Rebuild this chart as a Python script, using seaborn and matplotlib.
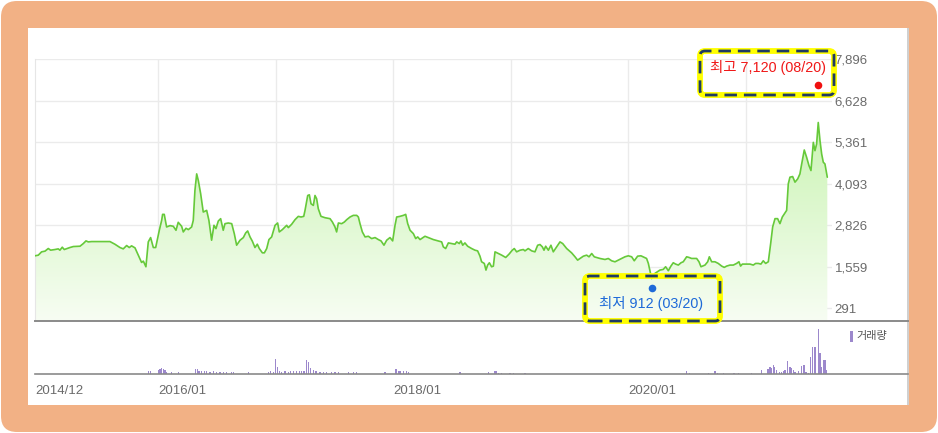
import numpy as np
import matplotlib
matplotlib.use("Agg")
import matplotlib.pyplot as plt
import seaborn as sns
from matplotlib.patches import FancyBboxPatch, Rectangle
from matplotlib.colors import LinearSegmentedColormap
from matplotlib.transforms import IdentityTransform

# closing price trace (decimal year, price)
years = [
    2014.951, 2014.979, 2015.007, 2015.036, 2015.064, 2015.084, 2015.121, 2015.149, 2015.163, 2015.183,
    2015.200, 2015.248, 2015.277, 2015.334, 2015.362, 2015.385, 2015.404, 2015.433, 2015.589, 2015.631,
    2015.674, 2015.702, 2015.731, 2015.753, 2015.773, 2015.802, 2015.830, 2015.858, 2015.873, 2015.895,
    2015.915, 2015.935, 2015.958, 2015.978, 2016.009, 2016.029, 2016.037, 2016.051, 2016.071, 2016.100,
    2016.128, 2016.151, 2016.170, 2016.199, 2016.213, 2016.236, 2016.256, 2016.284, 2016.298, 2016.312,
    2016.327, 2016.341, 2016.361, 2016.383, 2016.412, 2016.431, 2016.454, 2016.474, 2016.491, 2016.511,
    2016.531, 2016.553, 2016.568, 2016.596, 2016.625, 2016.647, 2016.667, 2016.696, 2016.724, 2016.744,
    2016.761, 2016.781, 2016.801, 2016.823, 2016.843, 2016.860, 2016.886, 2016.903, 2016.923, 2016.942,
    2016.965, 2016.994, 2017.016, 2017.030, 2017.056, 2017.079, 2017.093, 2017.107, 2017.135, 2017.164,
    2017.192, 2017.215, 2017.238, 2017.249, 2017.272, 2017.286, 2017.300, 2017.320, 2017.334, 2017.348,
    2017.362, 2017.385, 2017.419, 2017.462, 2017.482, 2017.504, 2017.518, 2017.533, 2017.561, 2017.584,
    2017.604, 2017.632, 2017.660, 2017.689, 2017.703, 2017.717, 2017.737, 2017.760, 2017.788, 2017.816,
    2017.845, 2017.873, 2017.896, 2017.921, 2017.944, 2017.972, 2017.995, 2018.015, 2018.029, 2018.057,
    2018.086, 2018.106, 2018.123, 2018.143, 2018.171, 2018.191, 2018.208, 2018.228, 2018.270, 2018.298,
    2018.341, 2018.383, 2018.412, 2018.426, 2018.446, 2018.469, 2018.497, 2018.525, 2018.540, 2018.562,
    2018.576, 2018.591, 2018.610, 2018.633, 2018.667, 2018.696, 2018.718, 2018.738, 2018.752, 2018.775,
    2018.789, 2018.803, 2018.818, 2018.837, 2018.852, 2018.866, 2018.894, 2018.923, 2018.957, 2018.985,
    2019.013, 2019.030, 2019.050, 2019.079, 2019.107, 2019.121, 2019.149, 2019.178, 2019.206, 2019.229,
    2019.249, 2019.269, 2019.283, 2019.297, 2019.320, 2019.342, 2019.362, 2019.391, 2019.419, 2019.442,
    2019.476, 2019.518, 2019.547, 2019.569, 2019.589, 2019.618, 2019.646, 2019.666, 2019.689, 2019.711,
    2019.731, 2019.760, 2019.802, 2019.830, 2019.859, 2019.887, 2019.915, 2019.944, 2019.972, 2020.000,
    2020.029, 2020.051, 2020.080, 2020.108, 2020.137, 2020.156, 2020.171, 2020.199, 2020.227, 2020.270,
    2020.298, 2020.318, 2020.341, 2020.363, 2020.383, 2020.403, 2020.426, 2020.449, 2020.468, 2020.497,
    2020.517, 2020.539, 2020.582, 2020.602, 2020.619, 2020.653, 2020.676, 2020.690, 2020.710, 2020.738,
    2020.766, 2020.795, 2020.817, 2020.837, 2020.866, 2020.894, 2020.922, 2020.942, 2020.956, 2020.971,
    2020.999, 2021.036, 2021.064, 2021.084, 2021.107, 2021.129, 2021.149, 2021.169, 2021.192, 2021.212,
    2021.229, 2021.249, 2021.271, 2021.291, 2021.311, 2021.348, 2021.362, 2021.376, 2021.399, 2021.419,
    2021.442, 2021.461, 2021.476, 2021.498, 2021.518, 2021.538, 2021.555, 2021.575, 2021.589, 2021.603,
    2021.617, 2021.632, 2021.646, 2021.660, 2021.674, 2021.694,
]
prices = [
    1894, 1914, 2015, 2036, 2117, 2066, 2086, 2106, 2066, 2157,
    2086, 2147, 2177, 2187, 2268, 2350, 2319, 2329, 2329, 2248,
    2147, 2106, 2208, 2147, 2198, 2137, 1914, 1691, 1732, 1559,
    2319, 2451, 2147, 2147, 2674, 2978, 3160, 3160, 2775, 2816,
    2795, 2674, 2917, 2795, 2623, 2735, 2694, 2775, 2978, 3889,
    4396, 4193, 3788, 3231, 3282, 2978, 2370, 2826, 2724, 2957,
    3028, 2674, 2876, 2896, 2876, 2572, 2218, 2370, 2451, 2592,
    2653, 2471, 2339, 2147, 2248, 2116, 1985, 1985, 2116, 2390,
    2471, 2825, 2896, 2623, 2694, 2775, 2825, 2755, 2856, 2998,
    3099, 3079, 3099, 3281, 3737, 3757, 3484, 3433, 3737, 3636,
    3332, 3099, 3058, 3028, 2927, 2775, 2623, 2896, 2876, 2927,
    2998, 3079, 3129, 3129, 3079, 2876, 2623, 2471, 2491, 2420,
    2451, 2390, 2349, 2218, 2370, 2451, 2349, 2825, 3079, 3099,
    3129, 3160, 2876, 2674, 2572, 2420, 2471, 2390, 2491, 2450,
    2390, 2349, 2319, 2167, 2116, 2288, 2268, 2248, 2319, 2268,
    2349, 2217, 2288, 2187, 2116, 2065, 2045, 1883, 1711, 1660,
    1458, 1610, 1681, 1559, 1579, 2015, 1964, 1914, 1843, 1944,
    2065, 2116, 2015, 2065, 2086, 2045, 2116, 2045, 2015, 2217,
    2238, 2167, 2065, 2187, 2065, 2217, 2015, 2167, 2319, 2268,
    2116, 1984, 1863, 1762, 1812, 1883, 1914, 1863, 1964, 1863,
    1843, 1812, 1782, 1812, 1741, 1711, 1762, 1812, 1864, 1894,
    1864, 1742, 1884, 1894, 1844, 1813, 1661, 1200, 1357, 1459,
    1479, 1560, 1438, 1580, 1682, 1641, 1611, 1682, 1712, 1864,
    1844, 1813, 1813, 1712, 1560, 1611, 1712, 1864, 1712, 1712,
    1661, 1580, 1540, 1580, 1611, 1611, 1661, 1712, 1580, 1641,
    1641, 1641, 1611, 1661, 1661, 1641, 1742, 1661, 1712, 2269,
    2776, 3029, 3029, 2877, 3079, 3282, 4092, 4295, 4315, 4143,
    4244, 4396, 4700, 5126, 4903, 4649, 4498, 5359, 5105, 5308,
    5966, 5409, 5004, 4751, 4700, 4295,
]

# trading volume (decimal year, relative units)
vol_years = [
    2015.915, 2015.935, 2016.000, 2016.015, 2016.029, 2016.043, 2016.057, 2016.071, 2016.114, 2016.171,
    2016.318, 2016.332, 2016.346, 2016.369, 2016.392, 2016.412, 2016.440, 2016.468, 2016.497, 2016.525,
    2016.554, 2016.582, 2016.625, 2016.639, 2016.766, 2016.937, 2016.956, 2016.979, 2016.999, 2017.013,
    2017.030, 2017.050, 2017.078, 2017.107, 2017.127, 2017.149, 2017.178, 2017.200, 2017.220, 2017.240,
    2017.263, 2017.280, 2017.297, 2017.320, 2017.342, 2017.376, 2017.405, 2017.433, 2017.476, 2017.504,
    2017.532, 2017.617, 2017.660, 2017.688, 2017.929, 2018.023, 2018.043, 2018.057, 2018.086, 2018.114,
    2018.128, 2018.568, 2018.809, 2018.860, 2018.874, 2018.894, 2018.923, 2018.994, 2019.022, 2019.121,
    2019.249, 2019.362, 2019.433, 2019.476, 2020.114, 2020.313, 2020.384, 2020.497, 2020.520, 2020.682,
    2020.738, 2020.758, 2020.809, 2020.900, 2020.937, 2021.050, 2021.135, 2021.191, 2021.206, 2021.220,
    2021.234, 2021.243, 2021.262, 2021.285, 2021.305, 2021.319, 2021.333, 2021.356, 2021.376, 2021.390,
    2021.404, 2021.418, 2021.447, 2021.475, 2021.495, 2021.512, 2021.532, 2021.552, 2021.569, 2021.589,
    2021.617, 2021.631, 2021.645, 2021.660, 2021.674, 2021.688,
]
volume = [
    6.7, 7.4, 8.9, 10.4, 13.3, 10.4, 8.9, 5.2, 3.7, 3.7,
    11.1, 10.4, 7.4, 6.7, 7.4, 6.7, 5.2, 5.9, 5.2, 4.4,
    4.4, 4.4, 5.2, 4.4, 3.7, 5.2, 6.7, 5.2, 33.3, 14.8,
    6.7, 5.2, 5.9, 5.2, 7.4, 5.9, 6.7, 5.9, 6.7, 7.4,
    31.1, 27.4, 12.6, 8.9, 5.9, 5.2, 4.4, 4.4, 4.4, 4.4,
    4.4, 3.7, 3.7, 3.7, 3.7, 10.4, 7.4, 6.7, 6.7, 7.4,
    5.2, 5.2, 3.7, 5.9, 5.9, 3.0, 1.5, 1.5, 1.5, 1.5,
    1.0, 1.0, 1.0, 1.0, 1.0, 1.0, 1.0, 5.9, 2.2, 1.5,
    5.9, 2.2, 1.5, 1.5, 1.5, 1.5, 8.9, 10.4, 16.3, 14.1,
    20.0, 14.8, 8.9, 5.2, 5.2, 6.7, 8.9, 28.9, 16.3, 12.6,
    8.9, 5.2, 7.4, 17.8, 20.0, 5.2, 3.0, 37.0, 59.3, 59.3,
    100.0, 45.9, 16.3, 31.1, 31.1, 8.9,
]

ytick_vals = [291, 1559, 2826, 4093, 5361, 6628, 7896]
xtick_pos = [2014.951, 2016, 2017, 2018, 2019, 2020, 2021]
xtick_labels = ["2014/12", "2016/01", "", "2018/01", "", "2020/01", ""]

hi_year, hi_price, hi_label = 2021.614, 7120, "최고 7,120 (08/20)"
lo_year, lo_price, lo_label = 2020.202, 912, "최저 912 (03/20)"

W, H = 938, 433
sns.set_style("white")
plt.rcParams["font.family"] = ["Liberation Sans", "Noto Sans CJK KR", "DejaVu Sans"]

fig = plt.figure(figsize=(W / 100, H / 100), dpi=100)
fig.patch.set_facecolor("white")

px = IdentityTransform()
fig.add_artist(FancyBboxPatch((1, 1), W - 2, H - 2, boxstyle="round,pad=0,rounding_size=16",
                              fc="#F2B185", ec="none", transform=px, zorder=-3))
fig.add_artist(Rectangle((28, 28), 881, 377, fc="white", ec="none", transform=px, zorder=-2))
fig.add_artist(Rectangle((907, 28), 1.5, 377, fc="#d0d0d0", ec="none", transform=px, zorder=-1))

# main price panel
ax = fig.add_axes([35 / W, 1 - 320.7 / H, (832 - 35) / W, (320.7 - 59.3) / H])
ax.set_facecolor("none")
xmin, xmax = 2014.951, 2021.734
ymin, ymax = -88, 7896

poly = ax.fill_between(years, prices, ymin, color="none", lw=0)
grad = np.linspace(1, 0, 256).reshape(-1, 1)
cmap = LinearSegmentedColormap.from_list("g", ["#f7fdf3", "#bcf19f"])
im = ax.imshow(grad, cmap=cmap, aspect="auto", extent=[xmin, xmax, ymin, ymax], origin="upper", zorder=1)
im.set_clip_path(poly.get_paths()[0], ax.transData)

sns.lineplot(x=years, y=prices, ax=ax, color="#66C93A", linewidth=1.2, sort=False, zorder=3)

ax.set_xlim(xmin, xmax)
ax.set_ylim(ymin, ymax)
ax.set_xticks(xtick_pos[1:])
ax.set_xticklabels([])
ax.yaxis.tick_right()
ax.set_yticks(ytick_vals)
ax.set_yticklabels([f"{v:,}" for v in ytick_vals])
ax.tick_params(axis="y", length=0, pad=2, labelsize=9.5, labelcolor="#6b6b6b")
ax.tick_params(axis="x", length=0)
ax.grid(True, color="#ebebeb", lw=1)
ax.set_axisbelow(True)
for s in ["top", "right", "bottom"]:
    ax.spines[s].set_visible(False)
ax.spines["left"].set_color("#e6e6e6")

ax.scatter([hi_year], [hi_price], s=30, color="#F01010", zorder=6, clip_on=False, linewidths=0)
ax.annotate(hi_label, (hi_year, hi_price), xytext=(6, 12.5), textcoords="offset points",
            ha="right", va="center", fontsize=10.4, color="#F01818", zorder=6, annotation_clip=False)
ax.scatter([lo_year], [lo_price], s=30, color="#1E6AD8", zorder=6, clip_on=False, linewidths=0)
ax.annotate(lo_label, (lo_year, lo_price), xytext=(-1, -11.5), textcoords="offset points",
            ha="center", va="center", fontsize=10.4, color="#1E6AD8", zorder=6, annotation_clip=False)

# volume panel
ax2 = fig.add_axes([35 / W, 1 - 374 / H, 873 / W, (374 - 320.7) / H])
ax2.set_facecolor("none")
ax2.bar(vol_years, volume, width=0.012, color="#9C88CC", linewidth=0)
ax2.set_xlim(xmin, xmin + 873 / 117.5)
ax2.set_ylim(0, 118.4)
ax2.set_yticks([])
ax2.set_xticks(xtick_pos)
ax2.set_xticklabels(xtick_labels, ha="left")
ax2.tick_params(axis="x", direction="out", length=4, width=1, color="#888888",
                labelsize=9.5, labelcolor="#6b6b6b", pad=4)
for s in ["left", "right"]:
    ax2.spines[s].set_visible(False)
ax2.spines["top"].set_color("#8a8a8a")
ax2.spines["top"].set_linewidth(1.4)
ax2.spines["bottom"].set_color("#8a8a8a")
ax2.spines["bottom"].set_linewidth(1.2)

fig.add_artist(Rectangle((850, H - 342), 3, 11, fc="#9C88CC", ec="none", transform=px, zorder=5))
fig.text(856 / W, 1 - 336.5 / H, "거래량", fontsize=8, color="#555555", va="center", ha="left")

# highlighted callout boxes
for (bx, by, bw, bh) in [(700, H - 95, 134, 44), (585, H - 321, 135, 45)]:
    fig.add_artist(FancyBboxPatch((bx, by), bw, bh, boxstyle="round,pad=0,rounding_size=5",
                                  fc="none", ec="#FFFF00", lw=4.2, transform=px, zorder=7))
    fig.add_artist(FancyBboxPatch((bx, by), bw, bh, boxstyle="round,pad=0,rounding_size=5",
                                  fc="none", ec="#1F3B63", lw=2.0, ls=(0, (4.5, 2.5)),
                                  transform=px, zorder=8))

fig.savefig("out.png", dpi=100)
